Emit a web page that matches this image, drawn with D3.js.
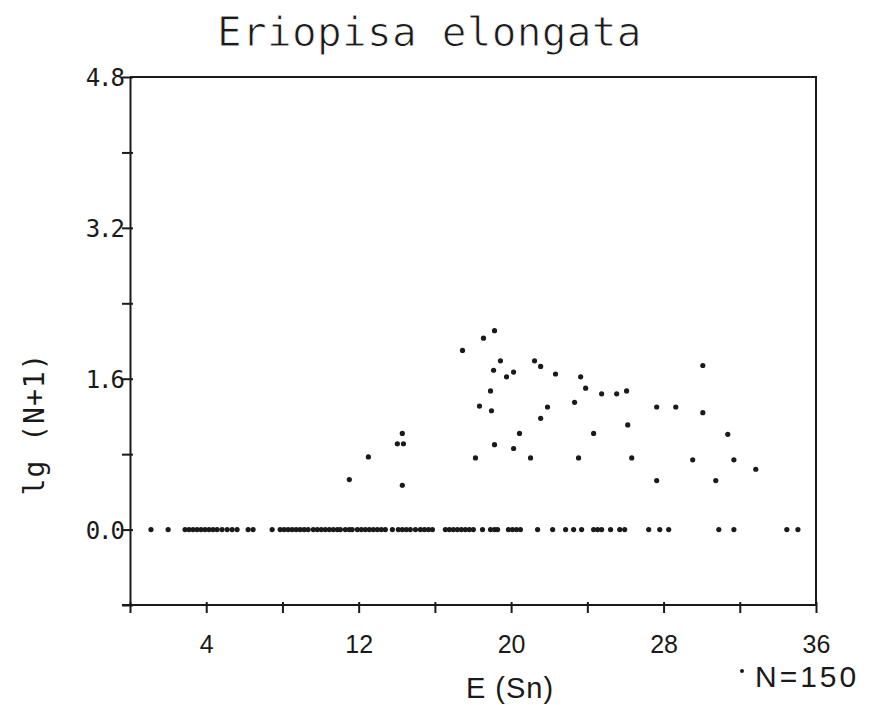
<!DOCTYPE html>
<html>
<head>
<meta charset="utf-8">
<script src="https://cdn.jsdelivr.net/npm/d3@7/dist/d3.min.js"></script>
<style>
  html, body { margin: 0; padding: 0; background: #ffffff; }
  svg { display: block; }
</style>
</head>
<body>
<div id="chart"></div>
<script>
// ---- Data ----
const title = "Eriopisa elongata";
const xLabel = "E (Sn)";
const yLabel = "lg (N+1)";
const legendLabel = "N=150";

const xTicks = [0, 4, 8, 12, 16, 20, 24, 28, 32, 36];
const xTickLabels = [4, 12, 20, 28, 36];
const yTicks = [-0.8, 0.0, 0.8, 1.6, 2.4, 3.2, 4.0, 4.8];
const yTickLabels = [0.0, 1.6, 3.2, 4.8];

// points with lg(N+1) = 0
const zeroX = [
  1.10, 2.00, 2.89, 3.10, 3.31, 3.52, 3.73, 3.94, 4.15, 4.36, 4.57, 4.83, 5.10, 5.36, 5.62, 6.20, 6.46,
  7.46, 7.88, 8.09, 8.30, 8.51, 8.72, 8.93, 9.14, 9.35, 9.62, 9.83, 10.04, 10.25, 10.46, 10.67, 10.88,
  11.04, 11.30, 11.51, 11.66, 11.93, 12.14, 12.35, 12.56, 12.77, 12.98, 13.19, 13.40, 13.77,
  14.08, 14.29, 14.50, 14.71, 14.98, 15.24, 15.45, 15.66, 15.87, 16.55, 16.76, 16.97, 17.18, 17.39,
  17.60, 17.81, 18.02, 18.50, 18.92, 19.13, 19.29, 19.86, 20.07, 20.28, 20.49, 21.39, 22.18, 22.86,
  23.28, 23.70, 24.33, 24.54, 24.75, 25.22, 25.70, 25.96, 27.22, 27.80, 28.27, 30.90, 31.69, 34.47, 35.05
];

// points with lg(N+1) > 0
const posX = [
  11.51, 12.51, 14.03, 14.35, 14.29, 14.29, 17.45, 18.13, 18.34, 18.55, 18.92, 18.97, 19.08, 19.13,
  19.13, 19.44, 19.76, 20.13, 20.13, 20.44, 21.02, 21.23, 21.55, 21.55, 21.91, 22.33, 23.33, 23.54,
  23.65, 23.91, 24.33, 24.75, 25.54, 26.06, 26.12, 26.33, 27.64, 27.64, 28.64, 29.53, 30.06, 30.06,
  30.74, 31.37, 31.69, 32.84
];
const posY = [
  0.53, 0.77, 0.91, 0.91, 1.02, 0.47, 1.90, 0.76, 1.31, 2.03, 1.47, 1.26, 1.69, 2.11,
  0.90, 1.79, 1.62, 1.67, 0.86, 1.02, 0.76, 1.79, 1.73, 1.18, 1.30, 1.65, 1.35, 0.76,
  1.62, 1.50, 1.02, 1.44, 1.44, 1.47, 1.11, 0.76, 1.30, 0.52, 1.30, 0.74, 1.74, 1.24,
  0.52, 1.01, 0.74, 0.64
];

const points = zeroX.map(v => ({x: v, y: 0}))
  .concat(posX.map((v, i) => ({x: v, y: posY[i]})));

// ---- Layout ----
const W = 877, H = 705;
const mLeft = 130, mRight = 816, mTop = 77, mBottom = 605;
const ink = "#1a1a1a";
const mono = "'DejaVu Sans Mono', 'Liberation Mono', monospace";
const sans = "'Liberation Sans', 'DejaVu Sans', Arial, sans-serif";

const svg = d3.select("#chart").append("svg")
  .attr("width", W).attr("height", H);

const x = d3.scaleLinear().domain([0, 36]).range([mLeft, mRight]);
const y = d3.scaleLinear().domain([-0.8, 4.8]).range([mBottom, mTop]);

// thin text helper (plotter-like strokes)
function thin(sel, w) {
  return sel.attr("stroke", "#ffffff").attr("stroke-width", w)
    .attr("paint-order", "normal");
}

// frame (top & right)
svg.append("path")
  .attr("d", `M${x(0)},${y(4.8)}H${x(36)}V${y(-0.8)}`)
  .attr("fill", "none").attr("stroke", ink).attr("stroke-width", 2);

// x axis
const xAxis = svg.append("g")
  .attr("transform", `translate(0,${y(-0.8)})`)
  .call(d3.axisBottom(x).tickValues(xTicks).tickSizeOuter(0)
    .tickFormat(d => xTickLabels.includes(d) ? d3.format("d")(d) : ""));
xAxis.select(".domain").attr("stroke", ink).attr("stroke-width", 2)
  .attr("d", `M${x(0) - 8},0H${x(36)}`);
xAxis.selectAll(".tick line").attr("stroke", ink).attr("stroke-width", 2)
  .attr("y1", -3).attr("y2", 8);
xAxis.selectAll(".tick text")
  .attr("y", 30).attr("dy", "0.71em")
  .attr("fill", ink).style("font-family", sans).style("font-size", "25px");

// y axis
const yAxis = svg.append("g")
  .attr("transform", `translate(${x(0)},0)`)
  .call(d3.axisLeft(y).tickValues(yTicks).tickSizeOuter(0)
    .tickFormat(d => yTickLabels.some(v => Math.abs(v - d) < 1e-9) ? d3.format(".1f")(d) : ""));
yAxis.select(".domain").attr("stroke", ink).attr("stroke-width", 2);
yAxis.selectAll(".tick line").attr("stroke", ink).attr("stroke-width", 2)
  .attr("x1", 3).attr("x2", -8);
yAxis.selectAll(".tick text")
  .attr("x", -7).attr("dy", "0.36em")
  .attr("fill", ink).style("font-family", mono).style("font-size", "24px")
  .style("letter-spacing", "-2px");

// points
svg.append("g").selectAll("circle").data(points).join("circle")
  .attr("cx", d => x(d.x)).attr("cy", d => y(d.y)).attr("r", 2.6)
  .attr("fill", ink);

// title
thin(svg.append("text").attr("x", 217).attr("y", 46)
  .attr("fill", ink).style("font-family", mono).style("font-size", "41px")
  .style("letter-spacing", "0.3px")
  .text(title), 0.9);

// x label
svg.append("text").attr("x", 510).attr("y", 698).attr("text-anchor", "middle")
  .attr("fill", ink).style("font-family", sans).style("font-size", "29px")
  .style("letter-spacing", "1px")
  .text(xLabel);

// y label
svg.append("text")
  .attr("transform", `translate(44,${y(1.12)}) rotate(-90)`)
  .attr("text-anchor", "middle")
  .attr("fill", ink).style("font-family", mono).style("font-size", "28px")
  .style("letter-spacing", "1px")
  .text(yLabel);

// legend
svg.append("circle").attr("cx", 742).attr("cy", 671).attr("r", 2).attr("fill", ink);
svg.append("text").attr("x", 755).attr("y", 687)
  .attr("fill", ink).style("font-family", sans).style("font-size", "30px")
  .style("letter-spacing", "3px")
  .text(legendLabel);
</script>
</body>
</html>
